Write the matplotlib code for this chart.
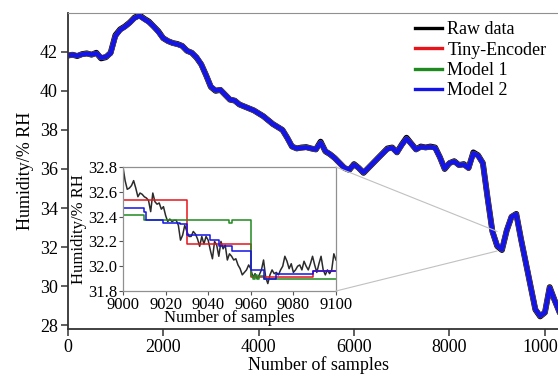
import matplotlib
matplotlib.use("Agg")
import matplotlib.pyplot as plt
from matplotlib.patches import ConnectionPatch

plt.rcParams["font.family"] = ["Liberation Serif", "DejaVu Serif"]

# main trace, one value every 100 samples
main_samples = list(range(0, 10500, 100))
raw_main = [
    41.80, 41.85, 41.78, 41.88, 41.92, 41.85, 41.95, 41.66, 41.72, 41.95,
    42.85, 43.15, 43.30, 43.50, 43.75, 43.88, 43.70, 43.55, 43.30, 43.05,
    42.70, 42.55, 42.45, 42.40, 42.30, 42.05, 41.95, 41.70, 41.35, 40.80,
    40.20, 40.00, 40.05, 39.80, 39.55, 39.50, 39.30, 39.20, 39.10, 39.00,
    38.85, 38.70, 38.50, 38.30, 38.15, 38.00, 37.60, 37.15, 37.05, 37.10,
    37.12, 37.05, 37.00, 37.40, 36.90, 36.75, 36.55, 36.30, 36.05, 35.95,
    36.25, 36.05, 35.80, 36.05, 36.30, 36.55, 36.80, 37.05, 37.10, 36.85,
    37.25, 37.60, 37.30, 37.00, 37.15, 37.10, 37.15, 37.10, 36.60, 36.00,
    36.30, 36.40, 36.20, 36.25, 36.05, 36.85, 36.70, 36.30, 34.50, 32.80,
    32.05, 31.85, 32.85, 33.55, 33.70, 32.40, 31.20, 30.00, 28.80, 28.45,
    28.65, 29.95, 29.30, 28.70, 28.30,
]
# model outputs overlap at this scale, one value every 100 samples
model_main = [
    41.82, 41.84, 41.80, 41.86, 41.90, 41.86, 41.92, 41.70, 41.74, 41.92,
    42.80, 43.12, 43.28, 43.48, 43.72, 43.84, 43.68, 43.52, 43.30, 43.02,
    42.70, 42.55, 42.45, 42.38, 42.30, 42.05, 41.95, 41.72, 41.35, 40.80,
    40.22, 40.02, 40.05, 39.80, 39.56, 39.50, 39.30, 39.20, 39.10, 39.00,
    38.85, 38.70, 38.50, 38.30, 38.15, 38.00, 37.60, 37.15, 37.05, 37.08,
    37.10, 37.05, 37.00, 37.35, 36.92, 36.75, 36.55, 36.30, 36.05, 35.97,
    36.22, 36.05, 35.82, 36.05, 36.30, 36.55, 36.78, 37.02, 37.08, 36.85,
    37.22, 37.55, 37.28, 37.00, 37.12, 37.10, 37.12, 37.08, 36.60, 36.02,
    36.30, 36.38, 36.20, 36.22, 36.05, 36.80, 36.68, 36.30, 34.50, 32.80,
    32.08, 31.88, 32.85, 33.55, 33.68, 32.40, 31.22, 30.00, 28.82, 28.48,
    28.65, 29.92, 29.30, 28.70, 28.32,
]

# inset: raw samples 9000..9100
inset_samples = list(range(9000, 9101))
raw_inset = [
    32.80, 32.69, 32.62, 32.63, 32.65, 32.69, 32.63, 32.56, 32.59, 32.58,
    32.56, 32.55, 32.53, 32.44, 32.59, 32.52, 32.50, 32.51, 32.46, 32.48,
    32.41, 32.36, 32.38, 32.36, 32.37, 32.37, 32.33, 32.21, 32.25, 32.33,
    32.28, 32.24, 32.24, 32.28, 32.26, 32.22, 32.16, 32.24, 32.18, 32.24,
    32.21, 32.13, 32.06, 32.20, 32.17, 32.08, 32.20, 32.14, 32.17, 32.05,
    32.10, 32.08, 32.05, 32.06, 32.01, 31.98, 31.93, 31.95, 31.97, 32.01,
    31.98, 31.91, 31.94, 31.90, 31.93, 31.97, 32.05, 31.91, 31.86, 31.93,
    31.97, 31.94, 31.95, 31.93, 31.97, 32.00, 32.08, 32.04, 31.98, 32.02,
    31.95, 31.97, 32.00, 32.01, 31.97, 32.04, 32.00, 31.97, 32.02, 32.08,
    32.01, 31.95, 32.02, 32.08, 31.97, 31.93, 31.97, 31.94, 31.97, 32.10,
    32.05,
]
# model predictions in the inset, as step change points
tiny_x = [9000, 9030, 9060, 9089, 9100]
tiny_y = [32.53, 32.18, 31.91, 31.96, 31.96]
m1_x = [9000, 9010, 9050, 9051, 9060, 9061, 9062, 9063, 9064, 9066, 9071, 9100]
m1_y = [32.41, 32.37, 32.35, 32.37, 31.92, 31.90, 31.93, 31.90, 31.92, 31.90, 31.895, 31.895]
m2_x = [9000, 9000, 9010, 9011, 9019, 9027, 9030, 9041, 9045, 9051, 9060, 9066, 9072, 9089, 9100]
m2_y = [32.80, 32.47, 32.44, 32.37, 32.35, 32.34, 32.25, 32.21, 32.16, 32.12, 31.97, 31.90, 31.94, 31.96, 31.96]

labels = ["Raw data", "Tiny-Encoder", "Model 1", "Model 2"]
colors = ["black", "#e8141b", "#1f8a1f", "#1414e6"]

fig = plt.figure(figsize=(5.58, 3.74), dpi=100)
ax = fig.add_axes([0.1213, 0.120, 0.898, 0.846])

ax.plot(main_samples, raw_main, color=colors[0], lw=4.2)
ax.plot(main_samples, model_main, color=colors[1], lw=3.7)
ax.plot(main_samples, model_main, color=colors[2], lw=3.5)
ax.plot(main_samples, model_main, color=colors[3], lw=3.3)

ax.set_xlim(0, 10500)
ax.set_ylim(27.8, 44.0)
ax.set_xticks(range(0, 10001, 2000))
ax.set_yticks(range(28, 43, 2))
ax.tick_params(direction="out", length=5, width=1.1, labelsize=13, color="#333333", pad=2)
for s in ["left", "bottom"]:
    ax.spines[s].set_color("#333333")
    ax.spines[s].set_linewidth(1.3)
ax.spines["top"].set_color("#909090")
ax.spines["right"].set_visible(False)
ax.set_xlabel("Number of samples", fontsize=13, labelpad=0)
ax.set_ylabel("Humidity/% RH", fontsize=13, labelpad=4)

handles = [plt.Line2D([], [], color=c, lw=2.4) for c in colors]
leg = ax.legend(handles, labels, loc="upper right", bbox_to_anchor=(0.992, 0.962),
                bbox_transform=fig.transFigure, frameon=False, fontsize=13,
                handlelength=1.5, handletextpad=0.3, labelspacing=0.18,
                borderaxespad=0)

ins = fig.add_axes([0.2204, 0.2219, 0.3817, 0.3316])
ins.plot(inset_samples, raw_inset, color="#2b2b2b", lw=1.1)
ins.step(tiny_x, tiny_y, where="post", color=colors[1], lw=1.1)
ins.step(m1_x, m1_y, where="post", color=colors[2], lw=1.1)
ins.step(m2_x, m2_y, where="post", color=colors[3], lw=1.1)
ins.set_xlim(9000, 9100)
ins.set_ylim(31.8, 32.8)
ins.set_xticks(range(9000, 9101, 20))
ins.set_yticks([31.8, 32.0, 32.2, 32.4, 32.6, 32.8])
ins.set_yticklabels(["%.1f" % v for v in [31.8, 32.0, 32.2, 32.4, 32.6, 32.8]])
ins.tick_params(direction="out", length=3, width=0.8, labelsize=12, color="#555555", pad=1)
for s in ins.spines.values():
    s.set_color("#909090")
    s.set_linewidth(0.9)
ins.set_xlabel("Number of samples", fontsize=12, labelpad=-2)
ins.set_ylabel("Humidity/% RH", fontsize=12, labelpad=1)

for corner, target in [((1, 1), (9000, 32.8)), ((1, 0), (9000, 31.8))]:
    con = ConnectionPatch(xyA=corner, coordsA=ins.transAxes, xyB=target,
                          coordsB=ax.transData, color="#c0c0c0", lw=0.8)
    fig.add_artist(con)

fig.savefig("out.png", dpi=100)
